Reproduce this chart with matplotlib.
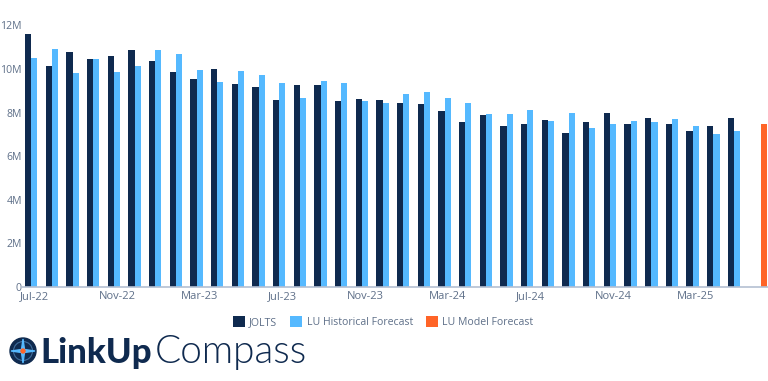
import matplotlib
matplotlib.use("Agg")
import matplotlib.pyplot as plt
from matplotlib.patches import Circle, Polygon

W, H = 768, 381

jolts = [11.62, 10.13, 10.79, 10.47, 10.60, 10.87, 10.37, 9.84, 9.55, 9.99, 9.30, 9.18,
         8.58, 9.27, 9.25, 8.53, 8.63, 8.56, 8.44, 8.41, 8.07, 7.58, 7.87, 7.38,
         7.49, 7.64, 7.06, 7.59, 8.00, 7.49, 7.74, 7.48, 7.17, 7.37, 7.75]
lu_hist = [10.51, 10.93, 9.82, 10.47, 9.88, 10.13, 10.87, 10.70, 9.94, 9.39, 9.91, 9.71,
           9.35, 8.66, 9.47, 9.36, 8.53, 8.44, 8.86, 8.93, 8.67, 8.44, 7.92, 7.95,
           8.12, 7.61, 7.97, 7.29, 7.49, 7.63, 7.58, 7.71, 7.38, 7.00, 7.17]
lu_model = [7.49]
x_labels = ["Jul-22", "Nov-22", "Mar-23", "Jul-23", "Nov-23", "Mar-24", "Jul-24", "Nov-24", "Mar-25"]
y_ticks = [0, 2, 4, 6, 8, 10, 12]
y_labels = ["0", "2M", "4M", "6M", "8M", "10M", "12M"]

NAVY = "#0f2a4f"
BLUE = "#55b9ff"
ORANGE = "#ff6427"
TEXT = "#5f7089"
AXIS = "#b4c0d2"

plt.rcParams["font.family"] = ["Open Sans", "DejaVu Sans"]

fig = plt.figure(figsize=(W / 100, H / 100), dpi=100)
ax = fig.add_axes([22 / W, (H - 287) / H, (W - 22) / W, 287 / H])

bw = 0.3
n = len(jolts)
ax.bar([i - bw for i in range(n)], jolts, bw, color=NAVY, label="JOLTS")
ax.bar(list(range(n)), lu_hist, bw, color=BLUE, label="LU Historical Forecast")
ax.bar([n + bw], lu_model, bw, color=ORANGE, label="LU Model Forecast")

ax.set_xlim(-12.3 / 20.67, (W - 34.3) / 20.67)
ax.set_ylim(0, 287 / 21.8)
ax.set_xticks(list(range(0, n, 4))[:len(x_labels)])
ax.set_xticklabels(x_labels, fontsize=8, color=TEXT)
ax.set_yticks(y_ticks)
ax.set_yticklabels(y_labels, fontsize=7.6, color=TEXT)
ax.tick_params(axis="x", length=0, pad=3)
ax.tick_params(axis="y", length=0, pad=0)
for s in ["top", "right", "left"]:
    ax.spines[s].set_visible(False)
ax.spines["bottom"].set_color(AXIS)
ax.spines["bottom"].set_linewidth(1.2)
ax.patch.set_alpha(0)

fig.legend(loc="center", bbox_to_anchor=(383 / W, (H - 322) / H), ncol=3, frameon=False,
           fontsize=7.6, labelcolor=TEXT, handlelength=1.15, handleheight=1.15,
           handletextpad=0.4, columnspacing=1.25, borderpad=0)

# logo
logo = fig.add_axes([0, 0, 1, 1])
logo.set_xlim(0, W)
logo.set_ylim(H, 0)
logo.axis("off")
logo.patch.set_alpha(0)
logo.add_patch(Circle((23, 351), 13, color=NAVY))
logo.add_patch(Circle((23, 351), 9.5, fill=False, ec="#3f6d9c", lw=0.8))
logo.add_patch(Polygon([(23, 339), (24.5, 349.5), (35, 351), (24.5, 352.5), (23, 363),
                        (21.5, 352.5), (11, 351), (21.5, 349.5)], color=BLUE))
logo.add_patch(Circle((23, 351), 2, color=ORANGE))
logo.text(40, 363, "LinkUp", fontsize=25, fontweight=900, color=NAVY,
          family=["Lato", "DejaVu Sans"], va="baseline", ha="left")
logo.text(155, 363, "Compass", fontsize=28, fontweight=300, color=NAVY,
          family=["Lato", "DejaVu Sans"], va="baseline", ha="left")

fig.savefig("out.png", dpi=100)
